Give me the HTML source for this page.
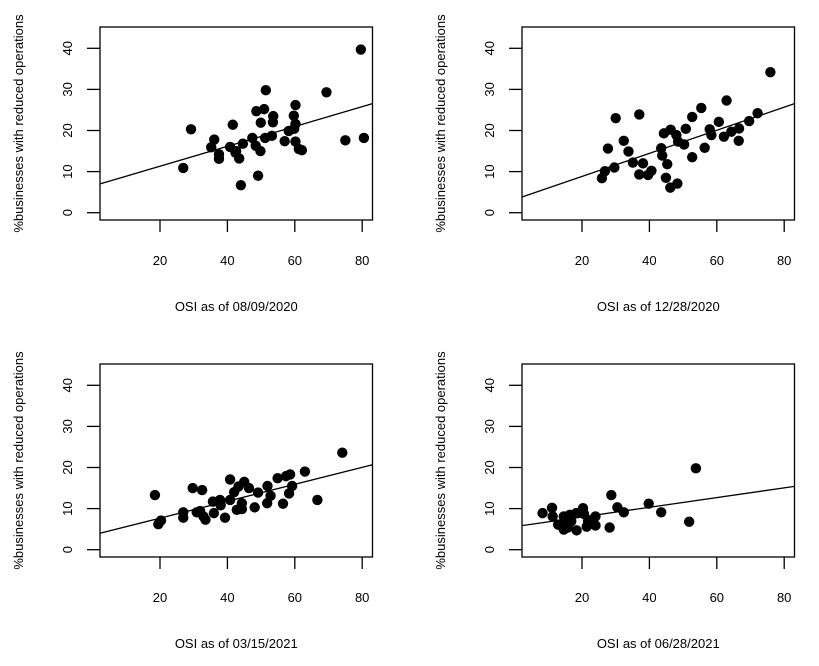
<!DOCTYPE html>
<html><head><meta charset="utf-8">
<style>
html,body{margin:0;padding:0;background:#fff;}
svg{display:block;font-family:"Liberation Sans",Arial,sans-serif;}
</style></head>
<body>
<svg id="chart" width="819" height="666" viewBox="0 0 819 666" xmlns="http://www.w3.org/2000/svg"></svg>
<script>
const panelTitles = ["OSI as of 08/09/2020","OSI as of 12/28/2020","OSI as of 03/15/2021","OSI as of 06/28/2021"];
const xTicks = [20,40,60,80];
const yTicks = [0,10,20,30,40];
const p1x = [79.6,51.4,69.4,29.2,41.6,60.2,48.6,50.9,49.9,53.6,53.5,59.7,60.2,59.8,58.2,53.2,51.2,47.4,57.0,60.2,61.2,62.1,75.0,80.5,36.1,35.2,37.5,37.5,40.8,42.6,44.6,43.5,42.4,48.4,49.8,26.9,49.1,44.0];
const p1y = [39.7,29.8,29.3,20.3,21.4,26.2,24.7,25.2,21.9,23.5,22.0,23.6,21.6,20.4,19.9,18.7,18.2,18.2,17.4,17.3,15.5,15.2,17.6,18.2,17.8,15.9,14.2,13.1,16.0,15.0,16.8,13.2,14.6,16.3,15.0,10.9,9.0,6.7];
const p2x = [75.9,62.9,55.4,52.7,72.1,69.6,66.6,66.5,60.6,62.1,64.3,57.9,58.4,56.4,50.8,46.3,44.3,48.0,48.5,50.3,52.7,30.0,37.0,32.4,27.7,33.8,43.5,43.8,45.3,35.1,38.1,40.6,39.6,37.0,29.6,26.8,25.9,44.9,48.3,46.2];
const p2y = [34.2,27.3,25.5,23.3,24.2,22.3,20.5,17.5,22.1,18.5,19.7,20.3,18.9,15.8,20.4,20.2,19.3,18.9,17.3,16.6,13.5,23.0,23.9,17.5,15.6,14.9,15.7,13.9,11.8,12.2,12.0,10.2,9.2,9.3,11.0,10.1,8.4,8.5,7.1,6.1];
const p3x = [74.1,63.0,66.7,58.6,57.4,54.9,59.2,58.3,56.5,51.9,52.8,51.8,49.1,48.1,40.8,45.0,46.4,43.3,42.0,40.8,44.3,42.8,44.3,39.3,37.8,35.7,38.0,36.0,29.7,32.5,31.9,30.9,32.9,33.5,26.9,26.9,18.5,20.3,19.5];
const p3y = [23.6,19.0,12.1,18.3,17.9,17.4,15.5,13.7,11.2,15.5,13.1,11.3,13.9,10.3,17.1,16.5,15.0,15.4,14.0,12.1,11.3,9.7,9.9,7.8,12.1,11.7,10.8,8.9,15.0,14.5,9.4,9.1,8.1,7.3,9.1,7.8,13.3,7.1,6.2];
const p4x = [53.8,51.8,43.5,39.8,28.7,30.5,32.4,28.2,8.3,11.1,11.3,12.9,14.6,14.8,14.6,16.4,16.8,18.3,18.4,20.3,20.6,21.8,21.4,24.0,24.0,15.8];
const p4y = [19.8,6.8,9.1,11.2,13.3,10.3,9.1,5.4,8.9,10.2,8.1,6.1,8.1,6.5,4.9,8.5,6.9,8.9,4.7,10.1,8.7,6.9,5.6,8.1,5.9,5.4];
const intercepts = [6.47,3.2,3.55,5.6];
const slopes = [0.2417,0.281,0.206,0.118];

const NS="http://www.w3.org/2000/svg";
const svg=document.getElementById('chart');
const xsAll=[p1x,p2x,p3x,p4x], ysAll=[p1y,p2y,p3y,p4y];
const offs=[[0,0],[422,0],[0,337],[422,337]];
const names=['panel-1','panel-2','panel-3','panel-4'];
function mk(tag,attrs,parent){const e=document.createElementNS(NS,tag);for(const k in attrs)e.setAttribute(k,attrs[k]);parent.appendChild(e);return e;}
for(let p=0;p<4;p++){
  const dx=offs[p][0], dy=offs[p][1];
  const g=mk('g',{},svg);
  
  
  const sx=v=>92.6+dx+v*3.37;
  const sy=v=>212.7+dy-v*4.11;
  const L=100+dx,R=372.5+dx,T=27+dy,B=220+dy;
  const x0=(L-92.6-dx)/3.37, x1=(R-92.6-dx)/3.37;
  // regression line
  const ln=mk('line',{x1:L,y1:sy(intercepts[p]+slopes[p]*x0),x2:R,y2:sy(intercepts[p]+slopes[p]*x1),stroke:'#000','stroke-width':1.3},g);
  
  
  // points
  const xs=xsAll[p], ys=ysAll[p];
  for(let i=0;i<xs.length;i++){
    const c=mk('circle',{cx:sx(xs[i]),cy:sy(ys[i]),r:5.2,fill:'#000'},g);
    
    
  }
  const box=mk('rect',{x:L,y:T,width:R-L,height:B-T,fill:'none',stroke:'#000','stroke-width':1.3},g);
  
  
  // x ticks
  for(const t of xTicks){
    const x=sx(t);
    const tk=mk('line',{x1:x,y1:B,x2:x,y2:B+12,stroke:'#000','stroke-width':1.3},g);
    
    
    const tx=mk('text',{x:x,y:B+45,'font-size':13,'text-anchor':'middle'},g);
    tx.textContent=t;
    
    
  }
  for(const t of yTicks){
    const y=sy(t);
    const tk=mk('line',{x1:L-13,y1:y,x2:L,y2:y,stroke:'#000','stroke-width':1.3},g);
    
    
    const tx=mk('text',{x:0,y:0,'font-size':13,'text-anchor':'middle',transform:`translate(${72+dx},${y}) rotate(-90)`},g);
    tx.textContent=t;
    
    
  }
  const xt=mk('text',{x:(L+R)/2,y:311+dy,'font-size':13,'text-anchor':'middle'},g);
  xt.textContent=panelTitles[p];
  
  
  const yt=mk('text',{x:0,y:0,'font-size':13,'text-anchor':'middle',transform:`translate(${23+dx},${(T+B)/2}) rotate(-90)`},g);
  yt.textContent='%businesses with reduced operations';
  
  
}
</script>
</body></html>
